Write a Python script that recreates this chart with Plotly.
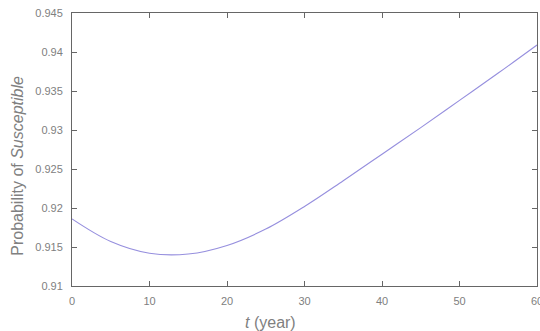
import plotly.graph_objects as go

t_years = [0, 5, 10, 15, 20, 25, 30, 35, 40, 45, 50, 55, 60]
p_susceptible = [0.9186, 0.9157, 0.9142, 0.9141, 0.9152, 0.9173, 0.9202,
                 0.9235, 0.9269, 0.9303, 0.9338, 0.9373, 0.9409]
x_ticks = [0, 10, 20, 30, 40, 50, 60]
y_ticks = [0.91, 0.915, 0.92, 0.925, 0.93, 0.935, 0.94, 0.945]
y_tick_text = ["0.91", "0.915", "0.92", "0.925", "0.93", "0.935", "0.94", "0.945"]

font_family = "Liberation Sans, Arial, sans-serif"
grey = "#808080"

fig = go.Figure()
fig.add_trace(go.Scatter(
    x=t_years, y=p_susceptible, mode="lines",
    line=dict(color="#968fde", width=1.1, shape="spline", smoothing=1.0),
    hoverinfo="skip", showlegend=False,
))

axis_common = dict(
    showgrid=False, zeroline=False, showline=True, linecolor="#666666", linewidth=1,
    mirror="ticks", ticks="inside", ticklen=5, tickcolor="#666666", tickwidth=1,
    tickfont=dict(family=font_family, size=11, color=grey), automargin=False,
)

fig.update_layout(
    width=540, height=331,
    margin=dict(l=72, r=3, t=13, b=45, autoexpand=False),
    paper_bgcolor="white", plot_bgcolor="white",
    xaxis=dict(range=[0, 60], tickvals=x_ticks, ticklabelstandoff=5,
               ticklabeloverflow="allow", **axis_common),
    yaxis=dict(range=[0.91, 0.945], tickvals=y_ticks, ticktext=y_tick_text, ticklabelstandoff=6,
               **axis_common),
    annotations=[
        dict(text="<i>t</i> (year)", x=0.426, xref="paper", y=-0.132, yref="paper",
             showarrow=False, font=dict(family=font_family, size=16, color=grey),
             xanchor="center", yanchor="middle"),
        dict(text="Probability of <i>Susceptible</i>", x=-0.118, xref="paper", y=0.441, yref="paper",
             showarrow=False, textangle=-90, font=dict(family=font_family, size=16, color=grey),
             xanchor="center", yanchor="middle"),
    ],
)

fig.write_html("out.html", config={"displayModeBar": False},
               post_script="document.body.style.margin='0';")
